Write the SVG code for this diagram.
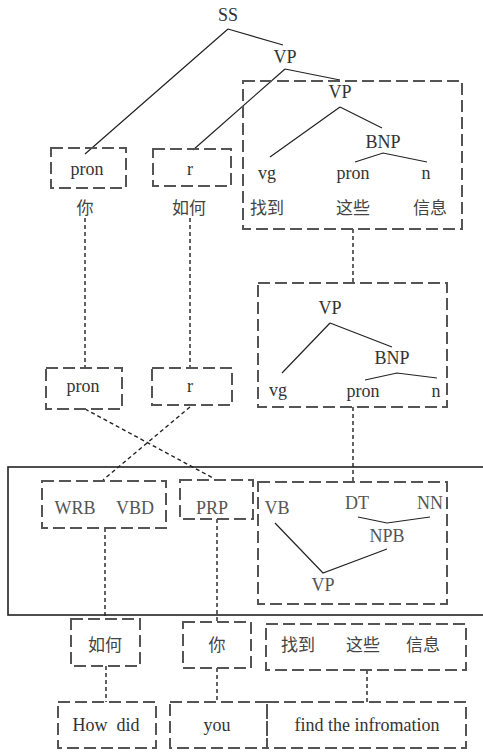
<svg xmlns="http://www.w3.org/2000/svg" width="483" height="752" viewBox="0 0 483 752">
<style>
.t{font-family:'Liberation Serif','Times New Roman','DejaVu Serif',serif;font-size:18px;fill:#333;text-anchor:middle}
.g{fill:#555}
.zh{font-family:'Noto Sans CJK SC',sans-serif;font-size:17px;fill:#444;text-anchor:middle}
.box{fill:none;stroke:#555;stroke-width:2;stroke-dasharray:12 5}
.tree{fill:none;stroke:#222;stroke-width:1.2}
.link{fill:none;stroke:#222;stroke-width:1.4;stroke-dasharray:4 3}
</style>
<rect x="0" y="0" width="483" height="752" fill="#fff"/>
<rect x="8" y="467" width="480" height="148" fill="none" stroke="#222" stroke-width="1.6"/>
<g id="connectors">
<path class="tree" d="M228,29 L85,154 M228,29 L283,45 M285,69 L193,150 M285,69 L340,80 M340,107 L270,157 M340,107 L382,128 M355,162 L383,153 L427,162"/>
<path class="tree" d="M330,323 L282,373 M330,323 L392,347 M365,380 L397,373 L437,378"/>
<path class="tree" d="M358,517 L387,523 L430,517 M387,549 L323,573 L275,523"/>
<path class="link" d="M85,218 V368 M190,218 V368 M353,229 V283 M85,409 L213,478 M190,407 L103,480 M353,407 V482 M105,528 V619 M217,519 V622 M106,666 V702 M217,668 V702 M367,670 V702"/>
</g>
<g id="n-SS"><text class="t" x="228" y="21">SS</text></g>
<g id="n-VP1"><text class="t" x="285" y="63">VP</text></g>
<g id="n-box1"><rect class="box" x="243" y="81" width="219" height="148"/>
<text class="t" x="340" y="98">VP</text><text class="t" x="383" y="148">BNP</text>
<text class="t" x="267" y="179">vg</text><text class="t" x="353" y="179">pron</text><text class="t" x="426" y="179">n</text>
<text class="zh" x="267" y="214">找到</text><text class="zh" x="353" y="214">这些</text><text class="zh" x="430" y="214">信息</text></g>
<g id="n-pron1"><rect class="box" x="51" y="148" width="75" height="40"/><text class="t" x="87" y="175">pron</text><text class="zh" x="85" y="214">你</text></g>
<g id="n-r1"><rect class="box" x="153" y="149" width="78" height="37"/><text class="t" x="190" y="175">r</text><text class="zh" x="189" y="214">如何</text></g>
<g id="n-box2"><rect class="box" x="258" y="283" width="189" height="124"/>
<text class="t" x="330" y="314">VP</text><text class="t" x="392" y="364">BNP</text>
<text class="t" x="278" y="396">vg</text><text class="t" x="363" y="397">pron</text><text class="t" x="436" y="397">n</text></g>
<g id="n-pron2"><rect class="box" x="46" y="368" width="76" height="41"/><text class="t" x="83" y="392">pron</text></g>
<g id="n-r2"><rect class="box" x="152" y="368" width="80" height="37"/><text class="t" x="190" y="392">r</text></g>
<g id="n-wrb"><rect class="box" x="42" y="481" width="124" height="47"/><text class="t g" x="75" y="514">WRB</text><text class="t g" x="135" y="514">VBD</text></g>
<g id="n-prp"><rect class="box" x="180" y="480" width="73" height="39"/><text class="t g" x="212" y="514">PRP</text></g>
<g id="n-box3"><rect class="box" x="258" y="482" width="189" height="122"/>
<text class="t g" x="277" y="514">VB</text><text class="t g" x="357" y="509">DT</text><text class="t g" x="430" y="509">NN</text>
<text class="t g" x="387" y="542">NPB</text><text class="t g" x="323" y="591">VP</text></g>
<g id="n-ruhe"><rect class="box" x="71" y="619" width="69" height="47"/><text class="zh" x="105" y="651">如何</text></g>
<g id="n-ni"><rect class="box" x="183" y="622" width="68" height="46"/><text class="zh" x="217" y="651">你</text></g>
<g id="n-zh3"><rect class="box" x="266" y="624" width="200" height="46"/><text class="zh" x="298" y="651">找到</text><text class="zh" x="363" y="651">这些</text><text class="zh" x="423" y="651">信息</text></g>
<g id="n-howdid"><rect class="box" x="58" y="702" width="98" height="46"/><text class="t" x="106" y="731" xml:space="preserve">How  did</text></g>
<g id="n-you"><rect class="box" x="170" y="702" width="97" height="46"/><text class="t" x="217" y="731">you</text></g>
<g id="n-find"><rect class="box" x="267" y="702" width="199" height="46"/><text class="t" x="367" y="731">find the infromation</text></g>
</svg>
